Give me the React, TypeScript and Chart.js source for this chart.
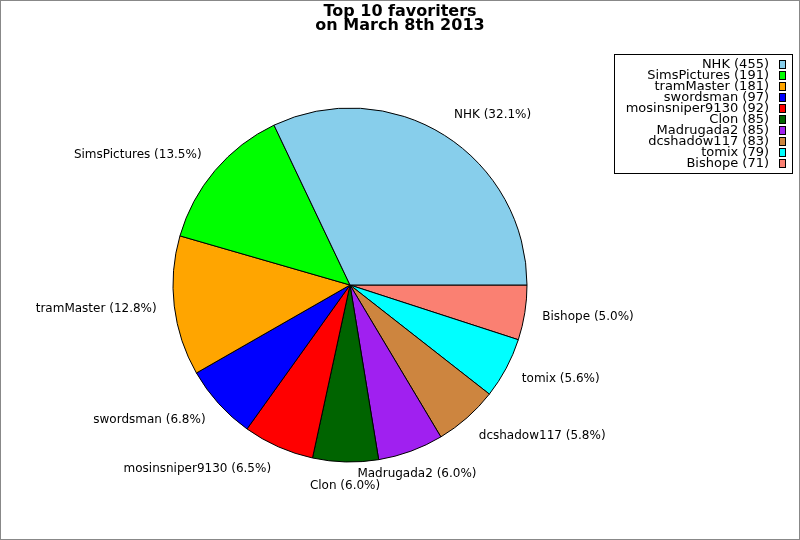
import { useEffect, useRef } from "react"
import { Chart, registerables, Plugin } from "chart.js"

Chart.register(...registerables)

// Data, in the order the reference draws it (counter-clockwise from 3 o'clock)
const names = ["NHK", "SimsPictures", "tramMaster", "swordsman", "mosinsniper9130", "Clon", "Madrugada2", "dcshadow117", "tomix", "Bishope"]
const counts = [455, 191, 181, 97, 92, 85, 85, 83, 79, 71]
const colors = ["#87ceeb", "#00ff00", "#ffa500", "#0000ff", "#ff0000", "#006400", "#a020f0", "#cd853f", "#00ffff", "#fa8072"]
const titleLines = ["Top 10 favoriters", "on March 8th 2013"]

const FONT = '"DejaVu Sans", sans-serif'
const total = counts.reduce((a, b) => a + b, 0)

// Chart.js goes clockwise, so feed the slices reversed
const revNames = [...names].reverse()
const revCounts = [...counts].reverse()
const revColors = [...colors].reverse()

const decorations: Plugin<"pie"> = {
  id: "decorations",
  afterDraw: (chart) => {
    const ctx = chart.ctx
    ctx.save()

    // outer frame
    ctx.strokeStyle = "#888"
    ctx.lineWidth = 1
    ctx.strokeRect(0.5, 0.5, 799, 539)

    // title
    ctx.fillStyle = "#000"
    ctx.font = `bold 16px ${FONT}`
    ctx.textAlign = "center"
    ctx.textBaseline = "alphabetic"
    ctx.fillText(titleLines[0], 400, 16)
    ctx.fillText(titleLines[1], 400, 30)

    // slice labels
    ctx.font = `12px ${FONT}`
    ctx.textBaseline = "middle"
    const meta = chart.getDatasetMeta(0)
    meta.data.forEach((el: any, i: number) => {
      const { x, y, startAngle, endAngle, outerRadius } = el.getProps(["x", "y", "startAngle", "endAngle", "outerRadius"], true)
      const mid = (startAngle + endAngle) / 2
      const c = Math.cos(mid)
      const s = Math.sin(mid)
      const ax = x + outerRadius * 1.1 * c
      const ay = y + outerRadius * 1.1 * s + s * 6
      ctx.textAlign = Math.abs(c) < 0.37 ? "center" : c > 0 ? "left" : "right"
      const pct = ((revCounts[i] / total) * 100).toFixed(1)
      ctx.fillText(`${revNames[i]} (${pct}%)`, ax, ay)
    })

    // legend
    ctx.font = `13px ${FONT}`
    const right = 792.5
    const top = 54.5
    const rowH = 11
    let maxW = 0
    names.forEach((n, i) => {
      maxW = Math.max(maxW, ctx.measureText(`${n} (${counts[i]})`).width)
    })
    const left = Math.round(769 - maxW - 12) + 0.5
    ctx.strokeStyle = "#000"
    ctx.strokeRect(left, top, right - left, 119)
    ctx.textAlign = "right"
    names.forEach((n, i) => {
      const cy = 64.5 + i * rowH
      ctx.fillStyle = "#000"
      ctx.fillText(`${n} (${counts[i]})`, 769, cy)
      ctx.fillStyle = colors[i]
      ctx.fillRect(779.5, cy - 4, 6, 8)
      ctx.strokeRect(779.5, cy - 4, 6, 8)
    })

    ctx.restore()
  },
}

export default function App() {
  const chartRef = useRef<HTMLCanvasElement>(null)
  const chartInstance = useRef<Chart | null>(null)

  useEffect(() => {
    if (!chartRef.current) return
    if (chartInstance.current) chartInstance.current.destroy()

    chartInstance.current = new Chart(chartRef.current, {
      type: "pie",
      data: {
        labels: revNames,
        datasets: [
          {
            data: revCounts,
            backgroundColor: revColors,
            borderColor: "#000",
            borderWidth: 1,
          },
        ],
      },
      options: {
        responsive: false,
        animation: false,
        devicePixelRatio: 1,
        rotation: 90,
        radius: 177,
        layout: { padding: { left: 100, right: 200, top: 100, bottom: 70 } },
        plugins: {
          legend: { display: false },
          title: { display: false },
          tooltip: { enabled: false },
        },
      },
      plugins: [decorations],
    })

    return () => {
      chartInstance.current?.destroy()
      chartInstance.current = null
    }
  }, [])

  return (
    <div style={{ position: "absolute", left: 0, top: 0, width: 800, height: 540, background: "#fff" }}>
      <canvas ref={chartRef} width={800} height={540} />
    </div>
  )
}
